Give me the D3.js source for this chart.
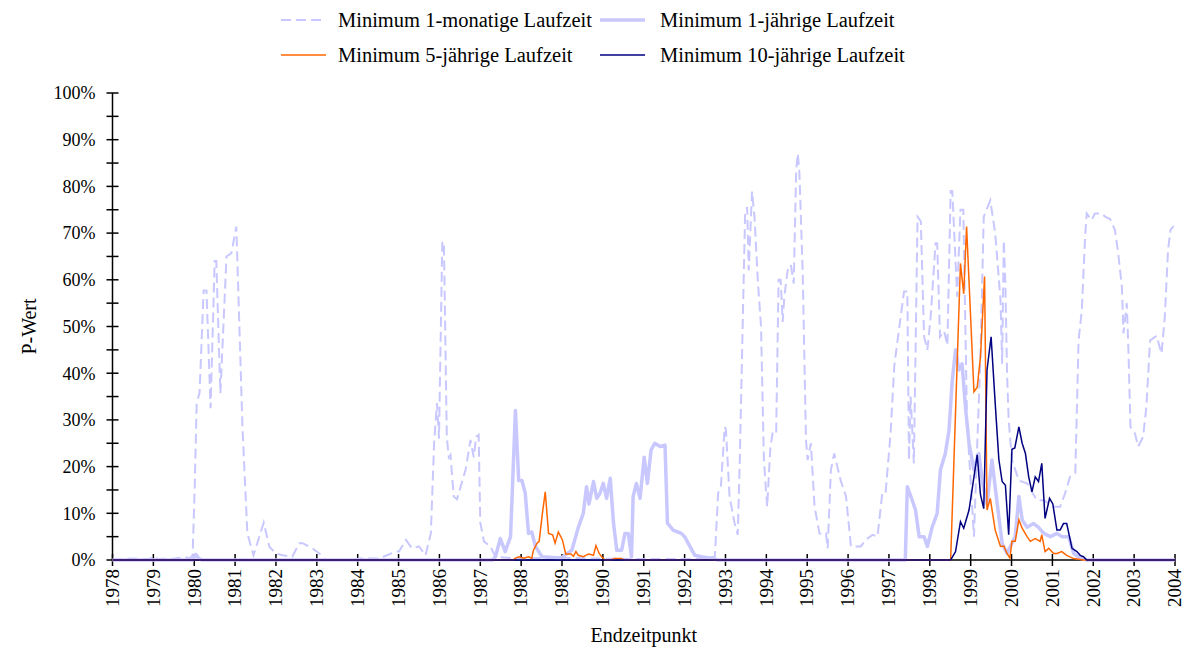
<!DOCTYPE html>
<html>
<head>
<meta charset="utf-8">
<script src="https://cdn.jsdelivr.net/npm/d3@7/dist/d3.min.js"></script>
<style>
  body { margin: 0; background: white; }
  text { font-family: "Liberation Serif", "Times New Roman", serif; fill: black; }
</style>
</head>
<body>
<svg width="1186" height="648"></svg>
<script>
// [decimal year, P-Wert in %]
var min1Monat = [
  [1978.00, 0], [1978.43, 0.3], [1978.91, 0.2], [1978.99, 0.8], [1979.11, 0.2], [1979.52, 0.3],
  [1979.77, 0.6], [1979.89, 0.4], [1979.96, 1], [1980.01, 15], [1980.06, 33.6], [1980.13, 35.8],
  [1980.23, 57.7], [1980.30, 57.7], [1980.40, 32.5], [1980.50, 64], [1980.54, 64], [1980.64, 35.7],
  [1980.79, 65], [1980.91, 65.7], [1981.03, 71.4], [1981.06, 62.8], [1981.18, 28.5], [1981.30, 5.7],
  [1981.45, 1], [1981.70, 8], [1981.84, 2.8], [1982.00, 1.4], [1982.16, 1], [1982.40, 0.7],
  [1982.57, 3.6], [1982.65, 3.6], [1982.89, 2.5], [1983.06, 1.4], [1983.22, 0], [1983.87, 0],
  [1984.04, 0.3], [1984.52, 0.3], [1984.93, 1.8], [1985.01, 1.8], [1985.18, 4.3], [1985.33, 2.5],
  [1985.50, 2.9], [1985.66, 1], [1985.79, 5.7], [1985.87, 25], [1985.94, 33.6], [1985.99, 26],
  [1986.07, 68.2], [1986.11, 68], [1986.18, 26.4], [1986.23, 22], [1986.27, 22.5], [1986.35, 13.6],
  [1986.43, 13], [1986.64, 19.3], [1986.76, 25.7], [1986.84, 22], [1986.90, 26.4], [1986.96, 26.8],
  [1987.00, 8], [1987.09, 4], [1987.25, 2.9], [1987.37, 0.7], [1987.94, 0.3], [1988.91, 0.5],
  [1989.89, 0.3], [1990.87, 0.2], [1992.33, 0.2], [1992.74, 0.7], [1992.82, 14.3], [1992.89, 16],
  [1992.98, 28.5], [1993.01, 28], [1993.10, 13.6], [1993.22, 8], [1993.30, 5.4], [1993.35, 21.4],
  [1993.43, 54], [1993.48, 74], [1993.53, 75.6], [1993.57, 62], [1993.61, 70.7], [1993.65, 78.9],
  [1993.71, 73.5], [1993.79, 60], [1993.87, 50], [1993.94, 21.4], [1994.02, 11.4], [1994.10, 24.3],
  [1994.16, 27.5], [1994.24, 27.2], [1994.30, 60], [1994.35, 60], [1994.40, 51], [1994.44, 56.4],
  [1994.52, 62], [1994.60, 63.2], [1994.67, 59.2], [1994.73, 83.5], [1994.77, 87], [1994.81, 82.8],
  [1994.89, 61.4], [1994.97, 25.7], [1995.01, 21.4], [1995.09, 25], [1995.18, 11.4], [1995.30, 5.7],
  [1995.38, 5.4], [1995.46, 5.7], [1995.50, 2.5], [1995.58, 19.3], [1995.66, 22.8], [1995.82, 17],
  [1995.95, 13.6], [1996.07, 2.9], [1996.31, 2.9], [1996.43, 4.3], [1996.60, 5.4], [1996.72, 5],
  [1996.84, 14.6], [1996.92, 14.6], [1997.04, 27.1], [1997.13, 41.4], [1997.21, 47], [1997.37, 57.5],
  [1997.45, 57.5], [1997.49, 21.4], [1997.53, 35], [1997.61, 20.7], [1997.70, 73.5], [1997.78, 72.5],
  [1997.86, 47.8], [1997.94, 45], [1998.02, 52], [1998.14, 67.8], [1998.18, 67.8], [1998.25, 47.8],
  [1998.35, 49], [1998.43, 46], [1998.51, 79], [1998.55, 79], [1998.67, 56.4], [1998.75, 75],
  [1998.82, 75], [1998.91, 30], [1999.08, 5], [1999.24, 44], [1999.32, 73.5], [1999.48, 77],
  [1999.60, 70], [1999.73, 55.7], [1999.77, 42], [1999.81, 68.5], [1999.85, 59], [1999.89, 40],
  [1999.93, 30], [2000.01, 21.4], [2000.18, 17], [2000.38, 16.4], [2000.62, 12.8], [2000.79, 12.8],
  [2001.03, 11.4], [2001.19, 11.4], [2001.31, 14.3], [2001.43, 17.8], [2001.56, 18.6], [2001.64, 47],
  [2001.72, 53.5], [2001.80, 69.2], [2001.84, 74.2], [2001.96, 72.8], [2002.04, 74.2], [2002.21, 74.2],
  [2002.29, 73.5], [2002.41, 73], [2002.53, 70.7], [2002.61, 65.7], [2002.70, 58.5], [2002.74, 48.5],
  [2002.82, 55], [2002.86, 45], [2002.91, 28.5], [2003.02, 27.1], [2003.10, 24.3], [2003.22, 26.4],
  [2003.30, 32.8], [2003.39, 47], [2003.55, 48], [2003.67, 44.2], [2003.75, 52], [2003.83, 66.4],
  [2003.89, 70.7], [2003.97, 71.5]
]

var min1Jahr = [
  [1978.00, 0], [1979.96, 0], [1980.04, 1.2], [1980.11, 0.3], [1980.20, 0], [1987.30, 0],
  [1987.37, 0.7], [1987.49, 4.6], [1987.61, 1.8], [1987.74, 5], [1987.86, 32], [1987.94, 17],
  [1988.02, 17], [1988.10, 14.3], [1988.18, 5.7], [1988.26, 6], [1988.35, 2.9], [1988.51, 0.7],
  [1988.87, 0.5], [1988.99, 0.5], [1989.24, 2.1], [1989.40, 7], [1989.52, 10], [1989.60, 15.7],
  [1989.66, 12], [1989.77, 16.8], [1989.85, 13.2], [1989.93, 14.3], [1990.01, 16.4], [1990.09, 13.2],
  [1990.18, 17.5], [1990.26, 7.9], [1990.34, 2.1], [1990.46, 2.1], [1990.54, 5.7], [1990.62, 5.7],
  [1990.70, 0.7], [1990.74, 13.6], [1990.82, 16.4], [1990.91, 13.2], [1991.01, 22], [1991.09, 16.4],
  [1991.18, 23.6], [1991.27, 25], [1991.40, 24.3], [1991.52, 24.6], [1991.58, 7.9], [1991.72, 6.4],
  [1991.92, 5.7], [1992.00, 5], [1992.13, 2.9], [1992.25, 1], [1992.41, 0.7], [1992.65, 0.4],
  [1992.82, 0], [1997.40, 0], [1997.45, 15.7], [1997.57, 12.8], [1997.65, 10.7], [1997.74, 5],
  [1997.86, 5], [1997.94, 2.9], [1998.06, 7.1], [1998.18, 10], [1998.26, 19.3], [1998.38, 22.8],
  [1998.47, 27.8], [1998.55, 38.5], [1998.63, 45], [1998.71, 40.7], [1998.79, 42], [1998.88, 32],
  [1998.96, 25], [1999.08, 19.3], [1999.20, 22.8], [1999.28, 17], [1999.40, 12], [1999.52, 21.4],
  [1999.65, 12], [1999.77, 3.6], [1999.89, 1.4], [1999.97, 2.9], [2000.09, 5], [2000.18, 13.6],
  [2000.26, 8.6], [2000.38, 7], [2000.54, 7.8], [2000.66, 7], [2000.79, 5.7], [2000.95, 5],
  [2001.11, 5.7], [2001.23, 5], [2001.40, 5], [2001.52, 1.4], [2001.68, 0.4], [2001.84, 0],
  [2004.00, 0]
]

var min5Jahr = [
  [1978.00, 0], [1987.80, 0], [1987.86, 0.4], [1987.94, 0.7], [1988.06, 0.4], [1988.18, 0.7],
  [1988.26, 0.4], [1988.30, 2.1], [1988.39, 3.6], [1988.44, 4], [1988.52, 10], [1988.59, 14.6],
  [1988.67, 5.7], [1988.77, 5.4], [1988.83, 3.6], [1988.91, 6], [1989.01, 4.3], [1989.09, 1.3],
  [1989.22, 1.3], [1989.28, 0.8], [1989.34, 1.8], [1989.40, 1], [1989.52, 0.7], [1989.65, 1.3],
  [1989.77, 1], [1989.83, 3.1], [1989.91, 1.4], [1989.97, 0.7], [1990.05, 0], [1990.20, 0],
  [1990.28, 0.3], [1990.45, 0.3], [1990.52, 0], [1998.51, 0], [1998.75, 63.5], [1998.83, 57],
  [1998.90, 71.4], [1999.08, 36], [1999.16, 37], [1999.24, 43.5], [1999.34, 60.7], [1999.40, 10.7],
  [1999.48, 13.2], [1999.60, 6.4], [1999.73, 2.9], [1999.81, 3], [1999.89, 1.4], [1999.96, 0.4],
  [2000.01, 4], [2000.09, 4], [2000.18, 8.6], [2000.26, 6.8], [2000.38, 5], [2000.46, 4],
  [2000.58, 4.6], [2000.70, 4], [2000.74, 5.4], [2000.82, 1.8], [2000.91, 2.5], [2001.03, 1.4],
  [2001.11, 1.4], [2001.23, 1.8], [2001.35, 1], [2001.52, 0.3], [2001.76, 0], [2004.00, 0]
]

var min10Jahr = [
  [1978.00, 0], [1998.51, 0], [1998.63, 1.8], [1998.75, 8.2], [1998.83, 6.8], [1998.96, 10.7],
  [1999.04, 15.4], [1999.16, 22.5], [1999.24, 14], [1999.32, 11], [1999.40, 40.7], [1999.50, 47.8],
  [1999.60, 33.6], [1999.69, 21.5], [1999.77, 16.8], [1999.85, 16], [1999.93, 5.4], [2000.01, 23.7],
  [2000.08, 24], [2000.18, 28.5], [2000.26, 25], [2000.34, 22.8], [2000.42, 17.8], [2000.50, 14.6],
  [2000.58, 17.8], [2000.66, 16.8], [2000.74, 20.7], [2000.82, 8.9], [2000.93, 13.2], [2001.01, 12],
  [2001.11, 6.4], [2001.19, 6.4], [2001.27, 7.8], [2001.35, 7.8], [2001.48, 2.5], [2001.60, 1.8],
  [2001.68, 1], [2001.76, 0.7], [2001.84, 0], [2004.00, 0]
]

var years = d3.range(1978, 2005)
var yTicks = d3.range(0, 101, 10)

var legendLabels = [
  "Minimum 1-monatige Laufzeit",
  "Minimum 1-jährige Laufzeit",
  "Minimum 5-jährige Laufzeit",
  "Minimum 10-jährige Laufzeit"
]

var
  svg = d3.select("svg"),
  margin = { top: 93, right: 11, bottom: 88, left: 112.5 },
  width = svg.attr("width") - margin.left - margin.right,
  height = svg.attr("height") - margin.top - margin.bottom,
  group = svg.append("g").attr(
    "transform",
    `translate(${margin.left},${margin.top})`
  )

var
  time = d3.scaleLinear().domain([1978, 2004]).range([0, width]),
  pwert = d3.scaleLinear().domain([0, 100]).range([height, 0])

var lightBlue = "#c8c8ff"

// axes: ticks cross the axis line
var yAxis = group.append("g")
yAxis.append("line")
  .attr("x1", 0).attr("x2", 0)
  .attr("y1", pwert(0)).attr("y2", pwert(100))
  .attr("stroke", "black").attr("stroke-width", 1.5)
yAxis.selectAll("line.tick")
  .data(d3.range(0, 101, 5))
  .join("line")
  .attr("class", "tick")
  .attr("x1", -6).attr("x2", 6)
  .attr("y1", d => pwert(d)).attr("y2", d => pwert(d))
  .attr("stroke", "black").attr("stroke-width", 1.5)
yAxis.selectAll("text")
  .data(yTicks)
  .join("text")
  .attr("x", -17)
  .attr("y", d => pwert(d))
  .attr("dy", "0.35em")
  .style("text-anchor", "end")
  .style("font-size", "18px")
  .text(d => d + "%")

var tAxis = group.append("g")
tAxis.append("line")
  .attr("x1", 0).attr("x2", width)
  .attr("y1", height).attr("y2", height)
  .attr("stroke", "black").attr("stroke-width", 1.5)
tAxis.selectAll("line.tick")
  .data(years)
  .join("line")
  .attr("class", "tick")
  .attr("x1", d => time(d)).attr("x2", d => time(d))
  .attr("y1", height - 6).attr("y2", height + 6)
  .attr("stroke", "black").attr("stroke-width", 1.5)
tAxis.selectAll("text")
  .data(years)
  .join("text")
  .attr("transform", d => `translate(${time(d)},${height + 9}) rotate(-90)`)
  .attr("dy", "0.33em")
  .style("text-anchor", "end")
  .style("font-size", "19px")
  .text(d => d)

var line = d3.line()
  .x(d => time(d[0]))
  .y(d => pwert(d[1]))

group.append("path")
  .attr("d", line(min1Monat))
  .attr("fill", "none")
  .attr("stroke", lightBlue)
  .attr("stroke-width", 2)
  .attr("stroke-dasharray", "10, 5")

group.append("path")
  .attr("d", line(min1Jahr))
  .attr("fill", "none")
  .attr("stroke", lightBlue)
  .attr("stroke-width", 3.5)
  .attr("stroke-linejoin", "round")

group.append("path")
  .attr("d", line(min5Jahr))
  .attr("fill", "none")
  .attr("stroke", "#ff6600")
  .attr("stroke-width", 1.5)

group.append("path")
  .attr("d", line(min10Jahr))
  .attr("fill", "none")
  .attr("stroke", "#000080")
  .attr("stroke-width", 1.5)

// axis titles
svg.append("text")
  .attr("transform", `translate(${margin.left + width / 2},642)`)
  .style("text-anchor", "middle")
  .style("font-size", "20px")
  .text("Endzeitpunkt")

svg.append("text")
  .attr("transform", `translate(36,${margin.top + height / 2}) rotate(-90)`)
  .style("text-anchor", "middle")
  .style("font-size", "20px")
  .text("P-Wert")

// legend
var legendStyles = [
  { stroke: lightBlue, width: 2, dash: "10, 5" },
  { stroke: lightBlue, width: 3.5, dash: null },
  { stroke: "#ff6600", width: 1.5, dash: null },
  { stroke: "#000080", width: 1.5, dash: null }
]

var legend = svg.append("g")
  .selectAll("g")
  .data(legendLabels)
  .join("g")
  .attr("transform", (d, i) => `translate(${i % 2 ? 600 : 281},${i < 2 ? 20 : 55})`)

legend.append("line")
  .attr("x1", 0).attr("x2", 45)
  .attr("stroke", (d, i) => legendStyles[i].stroke)
  .attr("stroke-width", (d, i) => legendStyles[i].width)
  .attr("stroke-dasharray", (d, i) => legendStyles[i].dash)

legend.append("text")
  .attr("x", (d, i) => i % 2 ? 60 : 57)
  .attr("dy", "0.35em")
  .style("font-size", "20.5px")
  .text(d => d)
</script>
</body>
</html>
